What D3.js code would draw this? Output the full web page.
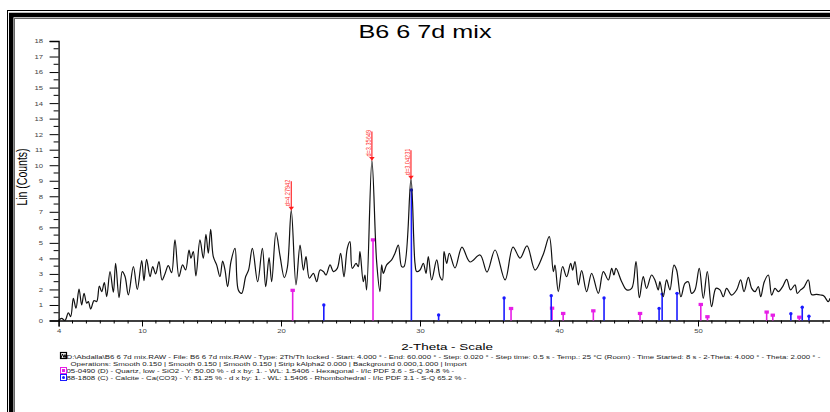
<!DOCTYPE html>
<html lang="en">
<head>
<meta charset="UTF-8">
<title>B6 6 7d mix</title>
<script src="https://d3js.org/d3.v7.min.js"></script>
<style>
  body { margin: 0; background: #fff; }
  svg { display: block; font-family: "Liberation Sans", Arial, sans-serif; }
</style>
</head>
<body>
<div id="chart"></div>
<script>
// scan (2-theta in degrees, Lin counts)
var scanDeg = [4.00,4.22,4.46,4.70,4.87,5.06,5.25,5.47,5.66,5.83,6.02,6.14,6.31,6.55,6.74,6.93,7.10,7.29,7.46,7.70,
  7.94,8.10,8.35,8.58,8.78,9.02,9.38,9.66,9.98,10.14,10.33,10.58,10.77,10.98,11.22,11.44,11.65,11.89,12.13,12.37,
  12.66,12.92,13.14,13.38,13.52,13.69,13.88,14.17,14.41,14.60,14.77,14.94,15.13,15.37,15.61,15.80,15.97,16.16,16.40,16.69,
  16.93,17.17,17.46,17.67,17.94,18.32,18.66,18.90,19.14,19.33,19.64,19.93,20.24,20.46,20.74,21.08,21.37,21.61,21.80,22.04,
  22.33,22.57,22.81,23.05,23.24,23.53,23.77,24.05,24.29,24.53,24.77,24.96,25.13,25.40,25.56,25.68,25.92,26.04,26.16,26.54,
  26.88,27.12,27.24,27.36,27.60,27.96,28.20,28.44,28.68,28.85,29.35,29.64,29.76,30.00,30.24,30.43,30.60,30.84,31.20,31.44,
  31.61,31.73,31.92,32.11,32.52,33.02,33.60,34.32,34.82,35.40,36.12,36.69,37.20,37.70,38.28,38.85,39.30,39.59,39.71,39.95,
  40.26,40.55,40.84,40.98,41.15,41.39,41.63,41.99,42.35,42.83,43.19,43.55,43.79,43.95,44.10,44.51,44.87,45.23,45.54,45.78,
  46.06,46.30,46.66,46.90,47.14,47.26,47.50,47.74,47.98,48.27,48.46,48.77,49.06,49.30,49.54,49.78,50.09,50.38,50.67,50.98,
  51.29,51.58,51.82,52.06,52.42,52.78,53.07,53.31,53.62,53.86,54.10,54.34,54.51,54.77,55.06,55.30,55.54,55.78,56.09,56.38,
  56.66,56.98,57.14,57.38,57.62,57.94,58.17,58.53,58.82,59.06,59.37,59.50];
var scanCounts = [0.00,0.14,0.00,0.50,0.25,1.43,0.79,2.03,1.00,1.75,1.11,1.22,0.74,1.28,1.22,2.22,1.86,2.44,1.54,3.15,
  1.82,3.68,1.47,3.15,2.83,1.65,3.47,2.01,3.86,2.57,3.94,2.83,3.47,3.00,3.79,2.61,3.00,3.53,3.08,5.19,
  2.83,3.58,3.26,4.54,4.01,4.44,2.87,5.19,4.01,5.55,4.33,5.87,4.11,3.58,2.83,3.83,3.26,2.18,3.79,4.65,
  1.97,1.75,2.83,3.26,4.65,2.50,4.65,2.18,4.05,2.50,5.66,4.16,2.76,3.43,7.10,2.30,4.86,3.25,4.11,2.72,
  3.04,2.50,3.25,3.15,2.93,3.58,3.15,3.36,4.33,2.82,4.65,5.08,3.36,3.68,3.47,4.43,2.50,2.93,1.97,10.30,
  3.79,1.86,3.58,3.04,3.58,3.90,4.33,4.86,3.47,3.47,9.10,3.68,3.15,3.25,3.68,3.04,4.11,2.61,3.90,2.82,
  2.61,4.43,3.68,4.33,3.38,4.73,3.77,4.22,3.12,4.54,2.61,4.73,4.02,4.80,3.25,4.22,5.40,3.15,3.57,1.86,
  3.47,2.82,3.68,3.25,3.79,2.29,3.21,1.86,3.04,1.75,3.15,2.61,3.36,2.93,3.36,2.50,1.97,2.07,3.79,1.47,
  2.82,2.07,2.93,2.61,1.97,2.50,1.53,2.61,1.97,3.57,3.25,1.53,2.39,2.50,1.75,1.97,3.36,1.43,3.15,0.89,
  2.07,1.97,1.53,2.07,1.64,1.97,2.61,1.86,2.78,2.07,1.86,2.18,1.53,2.50,2.93,1.64,2.07,1.86,2.18,2.65,
  1.97,2.29,1.75,1.97,2.14,2.61,1.68,1.68,1.64,1.58,1.21,1.43];

// reference pattern sticks
var quartzDeg = [20.84,26.62,36.55,39.50,40.30,42.47,45.83,50.20,50.68,54.94,55.38,57.29];
var quartzCounts = [1.95,5.20,0.78,0.80,0.46,0.63,0.46,1.04,0.25,0.55,0.35,0.22];
var calciteDeg = [23.08,29.38,31.34,36.05,39.44,43.24,47.20,47.42,48.49,56.68,57.50,57.98];
var calciteCounts = [1.00,8.40,0.35,1.45,1.60,1.45,0.78,1.70,1.75,0.44,0.85,0.27];

// labelled peaks
var peakDeg = [20.74, 26.54, 29.35];
var peakCounts = [7.10, 10.30, 9.10];
var peakLabels = ["d=4.27942", "d=3.35649", "d=3.04231"];

var xTicks = [4, 10, 20, 30, 40, 50];
var yTicks = d3.range(0, 19);

var legendLines = [
  "D:\\Abdalla\\B6 6 7d mix.RAW - File: B6 6 7d mix.RAW - Type: 2Th/Th locked - Start: 4.000 \u00b0 - End: 60.000 \u00b0 - Step: 0.020 \u00b0 - Step time: 0.5 s - Temp.: 25 \u00b0C (Room) - Time Started: 8 s - 2-Theta: 4.000 \u00b0 - Theta: 2.000 \u00b0 -",
  "Operations: Smooth 0.150 | Smooth 0.150 | Smooth 0.150 | Strip kAlpha2 0.000 | Background 0.000,1.000 | Import",
  "05-0490 (D) - Quartz, low - SiO2 - Y: 50.00 % - d x by: 1. - WL: 1.5406 - Hexagonal - I/Ic PDF 3.6 - S-Q 34.8 % -",
  "88-1808 (C) - Calcite - Ca(CO3) - Y: 81.25 % - d x by: 1. - WL: 1.5406 - Rhombohedral - I/Ic PDF 3.1 - S-Q 65.2 % -"
];

// the screenshot is stretched sideways, so text is too
var SX = 1.4;

var W = 830, H = 412;
var svg = d3.select("#chart").append("svg")
  .attr("width", W).attr("height", H);

// text drawn at (px,py), widened by SX
function wideText(parent, px, py, size, txt) {
  return parent.append("text")
    .attr("transform", "translate(" + px + "," + py + ") scale(" + SX + ",1)")
    .style("font-size", size + "px")
    .text(txt);
}

// frame (cut off by the right and bottom edge, like the screenshot)
svg.append("rect").attr("x", 7.5).attr("y", 10.5).attr("width", 900).attr("height", 500)
  .attr("fill", "none").attr("stroke", "#000").attr("stroke-width", 1);
svg.append("rect").attr("x", 11.2).attr("y", 15).attr("width", 900).attr("height", 500)
  .attr("fill", "none").attr("stroke", "#000").attr("stroke-width", 4.5);
svg.append("rect").attr("x", 14.5).attr("y", 18.5).attr("width", 900).attr("height", 500)
  .attr("fill", "none").attr("stroke", "#666").attr("stroke-width", 1);

var x = d3.scaleLinear().domain([4, 60]).range([58.6, 837]);
var y = d3.scaleLinear().domain([0, 18]).range([320.5, 41]);

// title
wideText(svg, 425, 38, 18, "B6 6 7d mix").attr("text-anchor", "middle");

// y axis
var yAxis = svg.append("g").attr("transform", "translate(" + x(4) + ",0)")
  .call(d3.axisLeft(y).tickValues(yTicks).tickSize(9).tickFormat(d3.format("d")));
yAxis.append("g").selectAll("line")
  .data(d3.range(0.5, 18, 1)).enter().append("line")
  .attr("x1", -5).attr("x2", 0)
  .attr("y1", function (d) { return y(d); }).attr("y2", function (d) { return y(d); })
  .attr("stroke", "#000");
yAxis.selectAll(".tick text")
  .attr("x", null).attr("dy", "0.35em")
  .attr("transform", "translate(-15.5,0) scale(" + SX + ",1)");

// x axis
var xAxis = svg.append("g").attr("transform", "translate(0," + y(0) + ")")
  .call(d3.axisBottom(x).tickValues(xTicks).tickSize(6).tickFormat(d3.format("d")));
xAxis.append("g").selectAll("line")
  .data(d3.range(5, 60, 1).filter(function (d) { return d % 10 !== 0; })).enter().append("line")
  .attr("x1", function (d) { return x(d); }).attr("x2", function (d) { return x(d); })
  .attr("y1", 0).attr("y2", 3)
  .attr("stroke", "#000");
xAxis.selectAll(".tick text")
  .attr("y", null).attr("dy", null)
  .attr("transform", "translate(0,12.5) scale(" + SX + ",1)");

[yAxis, xAxis].forEach(function (a) {
  a.select(".domain").attr("stroke-width", 1.3);
  a.selectAll(".tick text").style("font-size", "5.5px").style("fill", "#444");
});

// axis titles
svg.append("text")
  .attr("transform", "translate(27,177) scale(" + SX + ",1) rotate(-90)")
  .attr("text-anchor", "middle").style("font-size", "10.5px")
  .text("Lin (Counts)");
wideText(svg, 447, 350, 9.6, "2-Theta - Scale").attr("text-anchor", "middle");

var plot = svg.append("g");

// quartz sticks
var qData = quartzDeg.map(function (d, i) { return [d, quartzCounts[i]]; });
plot.selectAll("line.qz").data(qData).enter().append("line")
  .attr("class", "qz")
  .attr("x1", function (d) { return x(d[0]); }).attr("x2", function (d) { return x(d[0]); })
  .attr("y1", y(0)).attr("y2", function (d) { return y(d[1]); })
  .attr("stroke", "#e61ee6").attr("stroke-width", 1.6);
plot.selectAll("rect.qz").data(qData).enter().append("rect")
  .attr("class", "qz")
  .attr("x", function (d) { return x(d[0]) - 2.2; }).attr("y", function (d) { return y(d[1]) - 1.5; })
  .attr("width", 4.4).attr("height", 3.2)
  .attr("fill", "#e61ee6");

// calcite sticks
var cData = calciteDeg.map(function (d, i) { return [d, calciteCounts[i]]; });
plot.selectAll("line.cc").data(cData).enter().append("line")
  .attr("class", "cc")
  .attr("x1", function (d) { return x(d[0]); }).attr("x2", function (d) { return x(d[0]); })
  .attr("y1", y(0)).attr("y2", function (d) { return y(d[1]); })
  .attr("stroke", "#1a1aff").attr("stroke-width", 1.6);
plot.selectAll("circle.cc").data(cData).enter().append("circle")
  .attr("class", "cc")
  .attr("cx", function (d) { return x(d[0]); }).attr("cy", function (d) { return y(d[1]); })
  .attr("r", 1.7)
  .attr("fill", "#1a1aff");

// measured scan
var scan = scanDeg.map(function (d, i) { return [d, scanCounts[i]]; });
plot.append("path").datum(scan)
  .attr("fill", "none").attr("stroke", "#111").attr("stroke-width", 1.2)
  .attr("d", d3.line()
    .x(function (d) { return x(d[0]); })
    .y(function (d) { return y(d[1]); })
    .curve(d3.curveCatmullRom.alpha(0.5)));

// peak labels
peakDeg.forEach(function (d, i) {
  var px = x(d), py = y(peakCounts[i]);
  plot.append("line").attr("x1", px).attr("x2", px).attr("y1", py).attr("y2", py - 29)
    .attr("stroke", "#ff2a2a").attr("stroke-width", 1.2);
  plot.append("path")
    .attr("d", "M" + (px - 2.8) + "," + (py - 3.5) + "L" + (px + 2.8) + "," + (py - 3.5) + "L" + px + "," + py + "Z")
    .attr("fill", "#ff1a1a");
  plot.append("text")
    .attr("transform", "translate(" + (px - 1.2) + "," + (py - 4) + ") scale(" + SX + ",1) rotate(-90)")
    .style("font-size", "5.6px").style("fill", "#ff3333")
    .text(peakLabels[i]);
});

// legend
var lg = svg.append("g").style("fill", "#222");
var lgY = [358.5, 366, 373, 380];
var lgX = [66.5, 70.5, 66.5, 66.5];
legendLines.forEach(function (t, i) {
  wideText(lg, lgX[i], lgY[i], 5.6, t);
});
// scan icon
lg.append("rect").attr("x", 60.5).attr("y", 352.5).attr("width", 6).attr("height", 6)
  .attr("fill", "#fff").attr("stroke", "#000").attr("stroke-width", 1.2);
lg.append("path").attr("d", "M61,358 L62.5,354 L64,357.5 L65,354.5 L66,358")
  .attr("fill", "none").attr("stroke", "#000").attr("stroke-width", 1);
// quartz icon
lg.append("rect").attr("x", 60.5).attr("y", 367.5).attr("width", 6).attr("height", 6)
  .attr("fill", "#fff").attr("stroke", "#e61ee6").attr("stroke-width", 1);
lg.append("rect").attr("x", 62).attr("y", 369).attr("width", 3).attr("height", 3).attr("fill", "#e61ee6");
// calcite icon
lg.append("rect").attr("x", 60.5).attr("y", 374.5).attr("width", 6).attr("height", 6)
  .attr("fill", "#fff").attr("stroke", "#1a1aff").attr("stroke-width", 1);
lg.append("circle").attr("cx", 63.5).attr("cy", 377.5).attr("r", 1.5).attr("fill", "#1a1aff");
</script>
</body>
</html>
